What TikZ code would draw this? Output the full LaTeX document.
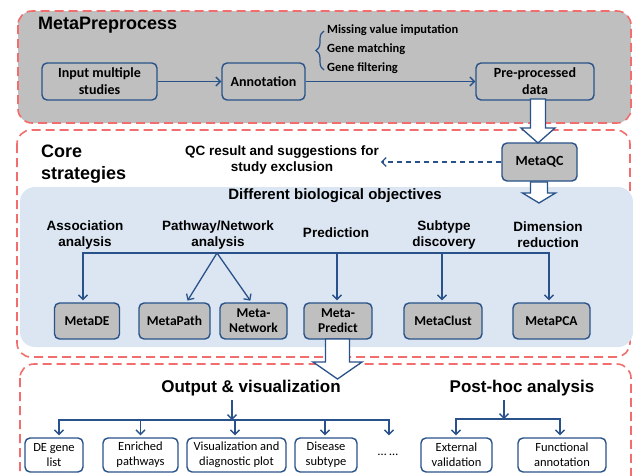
\documentclass[tikz,border=0pt]{standalone}
\usepackage{fontspec}
\setmainfont{Liberation Sans}
\newfontfamily\calfont{Carlito}
\usetikzlibrary{arrows.meta,decorations.pathreplacing,calc}
\definecolor{linec}{HTML}{285289}
\definecolor{dashred}{HTML}{F26D6D}
\definecolor{panelgray}{HTML}{BFBFBF}
\definecolor{panelblue}{HTML}{DCE6F2}
\tikzset{
  panel/.style={draw=dashred, line width=1.6pt, dash pattern=on 9pt off 5pt, rounded corners=14pt},
  procbox/.style={draw=linec, line width=1.4pt, rounded corners=5pt, align=center, inner sep=0pt,
    minimum height=37pt, font=\calfont\bfseries\fontsize{14}{17}\selectfont},
  methbox/.style={procbox, fill=panelgray, minimum height=36pt, font=\calfont\bfseries\fontsize{13.5}{15}\selectfont},
  outbox/.style={procbox, fill=white, minimum height=34pt, font=\calfont\fontsize{12.5}{15}\selectfont},
  stepnote/.style={anchor=west, inner sep=0pt, font=\calfont\bfseries\fontsize{12.5}{15}\selectfont},
  flow/.style={draw=linec, line width=1.3pt, -{Straight Barb[length=4.5pt,width=9pt]}},
  heading/.style={inner sep=0pt, align=left, font=\bfseries\fontsize{18}{22}\selectfont},
  subhead/.style={align=center, font=\bfseries\fontsize{13.5}{16}\selectfont},
  fatarrow/.style={draw=linec, line width=1.3pt, fill=white, line join=miter}
}
% x, top, head start, tip, half shaft, half head
\newcommand{\fatdown}[6]{%
  \draw[fatarrow] (#1-#5,#2) -- (#1+#5,#2) -- (#1+#5,#3) -- (#1+#6,#3) -- (#1,#4)
    -- (#1-#6,#3) -- (#1-#5,#3) -- cycle;}
\begin{document}
\begin{tikzpicture}[x=1pt,y=-1pt]
        \useasboundingbox (0,0) rectangle (633,475);
        \clip (0,0) rectangle (633,475);
        \draw[panel, fill=panelgray] (18,11) rectangle (631,123);
        \draw[panel, fill=white] (17,130) rectangle (630,357);
        \fill[panelblue, rounded corners=15pt] (20,187) rectangle (633,347);
        \draw[panel, fill=white] (20,364) rectangle (631,492);

        \node[heading, anchor=base west] (pretitle) at (38,29) {MetaPreprocess};
        \node[procbox, minimum width=115pt] (input) at (99.5,81.5) {Input multiple\\studies};
        \node[procbox, minimum width=83pt] (annot) at (263.5,81.5) {Annotation};
        \node[procbox, minimum width=118pt] (prep) at (535,81.5) {Pre-processed\\data};
        \node[stepnote] (impute) at (327,30) {Missing value imputation};
        \node[stepnote] (match) at (327,49) {Gene matching};
        \node[stepnote] (filter) at (327,68) {Gene filtering};
        \coordinate (bracebot) at (324,70);
        \coordinate (bracetop) at (324,31);
        \draw[linec, line width=1.2pt, decorate, decoration={brace, amplitude=8pt}] (bracebot) -- (bracetop);
        \draw[flow] (input.east) -- (annot.west);
        \draw[flow] (annot.east) -- (prep.west);

        \node[heading, anchor=west] (coretitle) at (41,164) {Core\\strategies};
        \node[methbox, minimum width=75pt, minimum height=38pt, font=\calfont\bfseries\fontsize{14}{17}\selectfont] (metaqc) at (539.5,162) {MetaQC};
        \node[align=center, inner sep=2pt, font=\bfseries\fontsize{13.5}{16}\selectfont] (qcnote) at (282,160) {QC result and suggestions for\\study exclusion};
        \draw[flow, dash pattern=on 5pt off 4pt, line width=1.1pt] (metaqc.west) -- (metaqc.west -| qcnote.east);

        \node[font=\bfseries\fontsize{15}{18}\selectfont] (objectives) at (335,196) {Different biological objectives};
        \node[subhead] (assoc) at (85,235) {Association\\analysis};
        \node[subhead] (pathnet) at (218,235) {Pathway/Network\\analysis};
        \node[subhead] (predict) at (336,233) {Prediction};
        \node[subhead] (subtype) at (444,235) {Subtype\\discovery};
        \node[subhead] (dimred) at (548,235) {Dimension\\reduction};
        \node[methbox, minimum width=65pt] (metade) at (87,321) {MetaDE};
        \node[methbox, minimum width=71pt] (metapath) at (174.5,321) {MetaPath};
        \node[methbox, minimum width=67pt] (metanet) at (253.5,321) {Meta-\\Network};
        \node[methbox, minimum width=68pt] (metapred) at (338,321) {Meta-\\Predict};
        \node[methbox, minimum width=78pt] (metaclust) at (443,321) {MetaClust};
        \node[methbox, minimum width=77pt] (metapca) at (551.5,321) {MetaPCA};
        \coordinate (jde) at (83,253);
        \coordinate (jpath) at (217,253);
        \coordinate (jpred) at (337,253);
        \coordinate (jclust) at (442,253);
        \coordinate (jpca) at (549,253);
        \draw[flow, shorten >=2pt] (jpred) -- (jde) -- (jde |- metade.north);
        \draw[flow, shorten >=2pt] (jpred) -- (jpca) -- (jpca |- metapca.north);
        \draw[flow, shorten >=2pt] (jpred) -- (jpred |- metapred.north);
        \draw[flow, shorten >=2pt] (jclust) -- (jclust |- metaclust.north);
        \draw[flow, shorten >=2pt] (jpath) -- ($(metapath.north)+(12,0)$);
        \draw[flow, shorten >=2pt] (jpath) -- ($(metanet.north)+(-2,0)$);

        \node[font=\bfseries\fontsize{17}{20}\selectfont] (outvis) at (251,388) {Output \& visualization};
        \node[font=\bfseries\fontsize{17}{20}\selectfont] (posthoc) at (522,388) {Post-hoc analysis};
        \node[outbox, minimum width=58pt] (degene) at (54,455) {DE gene\\list};
        \node[outbox, minimum width=75pt] (enriched) at (140.5,455) {Enriched\\pathways};
        \node[outbox, minimum width=99pt] (visual) at (236.5,455) {Visualization and\\diagnostic plot};
        \node[outbox, minimum width=62pt] (disease) at (326,455) {Disease\\subtype};
        \node[font=\calfont\fontsize{12.5}{15}\selectfont] (dots) at (388,455) {… …};
        \node[outbox, minimum width=71pt] (extval) at (456.5,455) {External\\validation};
        \node[outbox, minimum width=88pt] (funcann) at (562,455) {Functional\\annotation};
        \coordinate (ostem) at (232,400);
        \coordinate (obar) at (232,420);
        \coordinate (ode) at (59,420);
        \coordinate (oenr) at (140.5,420);
        \coordinate (ovis) at (235,420);
        \coordinate (odis) at (325,420);
        \coordinate (odots) at (389,420);
        \draw[flow] (ostem) -- (obar);
        \draw[flow, shorten >=2pt] (obar) -- (ode) -- (ode |- degene.north);
        \draw[flow, shorten >=2pt] (obar) -- (odots) -- (odots |- degene.north);
        \draw[flow, shorten >=2pt] (oenr) -- (oenr |- enriched.north);
        \draw[flow, shorten >=2pt] (ovis) -- (ovis |- visual.north);
        \draw[flow, shorten >=2pt] (odis) -- (odis |- disease.north);
        \coordinate (pstem) at (504,400);
        \coordinate (pbar) at (504,419);
        \coordinate (pext) at (456,419);
        \coordinate (pfun) at (560,419);
        \draw[flow] (pstem) -- (pbar);
        \draw[flow, shorten >=2pt] (pbar) -- (pext) -- (pext |- extval.north);
        \draw[flow, shorten >=2pt] (pbar) -- (pfun) -- (pfun |- funcann.north);

        \fatdown{538}{99}{128}{143}{7.5}{17}
        \fatdown{539}{182}{193}{203}{8.5}{16.5}
        \fatdown{337.5}{339}{362}{379}{12}{24.5}
\end{tikzpicture}
\end{document}
